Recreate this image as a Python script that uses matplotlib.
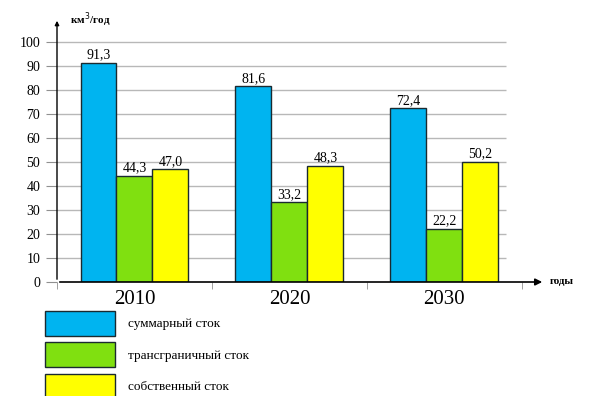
import matplotlib.pyplot as plt
from matplotlib.patches import Patch

years = ["2010", "2020", "2030"]
total = [91.3, 81.6, 72.4]
transboundary = [44.3, 33.2, 22.2]
own = [47.0, 48.3, 50.2]
series_names = ["суммарный сток", "трансграничный сток", "собственный сток"]
colors = ["#00B4F0", "#80E010", "#FFFF00"]
yticks = list(range(0, 101, 10))

plt.rcParams["font.family"] = ["Liberation Serif", "DejaVu Serif"]

fig = plt.figure(figsize=(6.01, 3.96), dpi=100)
ax = fig.add_axes([57 / 601, 1 - 282 / 396, (545 - 57) / 601, 264 / 396])

x = list(range(len(years)))
w = 0.232
for i, (vals, c) in enumerate(zip([total, transboundary, own], colors)):
    pos = [xi + (i - 1) * w for xi in x]
    bars = ax.bar(pos, vals, width=w, color=c, edgecolor="#1a2a30", linewidth=1.0, zorder=3)
    for b, v in zip(bars, vals):
        ax.text(b.get_x() + b.get_width() / 2, v + 0.6, f"{v:.1f}".replace(".", ","),
                ha="center", va="bottom", fontsize=10, zorder=4)

ax.set_xlim(-0.5, 2.65)
ax.set_ylim(0, 110)

# gridlines
ax.hlines(yticks[1:], -0.5, 2.4, color="#b8b8b8", linewidth=1.0, zorder=1)

for s in ax.spines.values():
    s.set_visible(False)

ax.set_yticks(yticks)
ax.set_yticklabels([str(t) for t in yticks], fontsize=10)
ax.tick_params(axis="y", length=8, color="#909090", pad=4)
ax.set_xticks(x)
ax.set_xticklabels(years, fontsize=15)
ax.tick_params(axis="x", length=0, pad=6)
ax.set_xticks([-0.5, 0.5, 1.5, 2.5], minor=True)
ax.tick_params(axis="x", which="minor", length=5, color="#909090")

# axes with arrows
ax.annotate("", xy=(1.0, 0), xycoords="axes fraction", xytext=(0, 0),
            arrowprops=dict(arrowstyle="-|>", color="black", lw=1.2, mutation_scale=10), zorder=5)
ax.annotate("", xy=(0, 1.0), xycoords="axes fraction", xytext=(0, 0),
            arrowprops=dict(arrowstyle="-|>", color="black", lw=1.0, mutation_scale=6), zorder=5)

fig.text(70 / 601, 1 - 20 / 396, "км$^3$/год", fontsize=8, fontweight="bold", va="center")
fig.text(550 / 601, 1 - 282 / 396, "годы", fontsize=8, fontweight="bold", va="center")

handles = [Patch(facecolor=c, edgecolor="#1a2a30", linewidth=1.0) for c in colors]
fig.legend(handles, series_names, loc="upper left", bbox_to_anchor=(45 / 601, 1 - 311 / 396),
           frameon=False, fontsize=9.5, handlelength=5.3, handleheight=2.5,
           labelspacing=0.5, handletextpad=1.0, borderpad=0, borderaxespad=0)

fig.savefig("out.png", dpi=100)
